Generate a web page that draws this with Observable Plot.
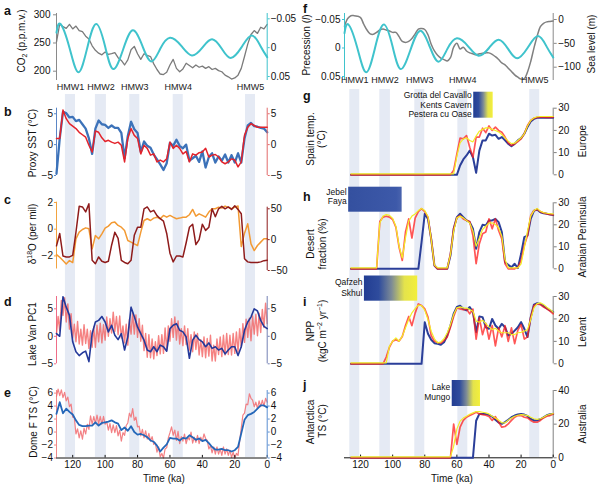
<!DOCTYPE html>
<html><head><meta charset="utf-8">
<script src="https://cdn.jsdelivr.net/npm/d3@7"></script>
<script src="https://cdn.jsdelivr.net/npm/@observablehq/plot@0.6"></script>
<style>
html,body{margin:0;padding:0;background:#fff;}
#fig{position:relative;width:600px;height:496px;overflow:hidden;background:#fff;}
#fig svg{position:absolute;left:0;top:0;}
</style></head><body><div id="fig"></div>
<script>
const FONT = '"Liberation Sans", Arial, Helvetica, sans-serif';

// ---------- time grids (ka) ----------
const TL2 = [0,2,4,6,8,10,12,14,16,18,20,22,24,26,28,30,32,34,36,38,40,42,44,46,48,50,52,54,56,58,60,62,64,66,68,70,72,74,76,78,80,82,84,86,88,90,92,94,96,98,100,102,104,106,108,110,112,114,116,118,120,122,124,126,128,130];
const TL1 = [0,1,2,3,4,5,6,7,8,9,10,11,12,13,14,15,16,17,18,19,20,21,22,23,24,25,26,27,28,29,30,31,32,33,34,35,36,37,38,39,40,41,42,43,44,45,46,47,48,49,50,51,52,53,54,55,56,57,58,59,60,61,62,63,64,65,66,67,68,69,70,71,72,73,74,75,76,77,78,79,80,81,82,83,84,85,86,87,88,89,90,91,92,93,94,95,96,97,98,99,100,101,102,103,104,105,106,107,108,109,110,111,112,113,114,115,116,117,118,119,120,121,122,123,124,125,126,127,128,129,130];
const TR2 = [0,2,4,6,8,10,12,14,16,18,20,22,24,26,28,30,32,34,36,38,40,42,44,46,48,50,52,54,56,58,60,62,64,66,68,70,72,74,76,78,80,82,84,86,88,90,92,94,96,98,100,102,104,106,108,110,112,114,116,118,120,122,124,126];
const xTicks = [120,100,80,60,40,20,0];

// ---------- HMW windows & sites ----------
const hmwNames = ["HMW1","HMW2","HMW3","HMW4","HMW5"];
const hmwOldL = [124.5,106,84.8,58,13.4], hmwYoungL = [118.3,99.2,78.6,51.8,7.2];
const hmwOldR = [126.7,108,86.2,59.4,14.6], hmwYoungR = [120.5,101.4,80,53.2,8.4];
const siteLabels = [["Grotta del Cavallo","Kents Cavern","Pestera cu Oase"],["Jebel","Faya"],["Qafzeh","Skhul"],["Lake","Mungo"]];
const siteOld = [49.5,127.4,117.6,62.9];
const siteYoung = [37.4,94.1,84.4,45.3];

// ---------- a / f ----------
const precT = [0,4,9.5,16,22.5,28,34,40,46.5,53,60,66,71.5,77,83,89,95,100,105.5,111,116.5,122,127.5,130];
const precV = [0.0165,-0.002,-0.021,0.000,0.018,0.002,-0.0145,0.000,0.0135,-0.003,-0.017,0.002,0.024,-0.003,-0.030,0.004,0.037,-0.002,-0.041,0.000,0.0425,0.000,-0.041,-0.026];
const co2 = [283,275,278,267,272,265,248,226,205,193, 188,186,190,193,199,201,205,203,208,205, 209,207,211,206,210,214,204,199,205,221, 211,198,194,195,203,213,226,228,231,221, 231,244,238,220,211,219,224,233,231,230, 234,229,232,237,245,257,262,270,272,280, 275,283,276,279,284,252];
const seaLevel = [-3,-4,-5,-8,-15,-35,-60,-88,-110,-124, -125,-121,-116,-109,-102,-95,-91,-84,-78,-73, -70,-70,-71,-72,-74,-72,-70,-66,-58,-62, -50,-58,-80,-87,-84,-81,-75,-66,-52,-32, -21,-19,-20,-30,-40,-46,-48,-46,-36,-27, -27,-24,-22,-20,-22,-27,-31,-30,-22,-10, 4,7,8,8,2,-14];

// ---------- b ----------
const sstBlue = [2.0,2.6,2.7,2.9,3.0,3.5,3.1,1.0,-2.9,-1.4, -2.9,-1.7,-2.9,-1.6,-2.6,-1.9,-2.9,-1.4,-2.0,-3.7, -1.1,-2.8,-1.8,-2.2,-2.6,0.0,-0.6,-0.2,0.8,-0.2, 0.3,-3.0,-4.1,-3.2,-2.4,-1.6,-0.5,-0.2,0.5,-1.2, 1.9,2.5,3.7,1.4,-2.2,1.9,2.7,2.7,3.1,2.7, 3.2,3.3,3.9,2.6,-1.5,1.0,2.6,3.3,4.0,3.8, 4.5,4.4,5.1,5.3,1.0,-4.7];
const sstRed = [2.8,2.8,2.8,2.8,3.1,3.4,2.8,1.5,-2.8,-3.6, -2.5,-2.3,-2.8,-3.1,-2.8,-2.0,-1.6,-1.7,-2.0,-0.6, -1.2,-1.3,-1.7,-1.5,-2.8,-1.1,-1.5,-0.6,-0.1,-0.6, 0.4,-2.3,-2.8,-2.5,-2.8,-1.5,-1.7,-0.6,-0.1,-1.5, 1.0,1.5,2.6,1.0,-2.8,-0.1,0.4,0.2,0.4,0.7, 0.5,1.1,2.0,2.2,-1.2,-0.1,1.2,1.6,2.0,2.6, 3.0,3.4,4.2,5.6,1.0,1.0];

// ---------- c ----------
const d18Orange = [-0.72,-0.72,-0.97,-1.22,-1.6,-1.1,0.4,-0.3,-1.3,1.73, 1.65,1.53,1.63,1.73,1.58,1.65,1.53,1.53,1.28,0.9, 1.03,1.15,0.98,1.48,1.08,0.9,0.9,0.83,0.78,0.9, 1.03,0.9,1.03,0.78,0.9,0.83,0.65,0.78,0.65,-0.22, -1.22,-1.1,-0.97,-0.85,-0.1,0.15,0.28,0.53,0.48,0.23, 0.08,-0.35,-0.72,-0.47,-1.47,0.03,0.1,-0.02,-0.22,-0.72, -2.5,-2.35,-2.6,-2.35,-2.1,-1.9];
const d18DarkRed = [-33.5,-34,-36,-37,-37,-37,-36,-31,42,49, 55,49,53,50,54,50,37,50,20,15, 25,0,-8,25,20,-5,-28,-26.5,-26.5,-36, -22,10,30,34,39,47.5,45,53,50,20, 20,7,-33.5,-39,-37,-33.5,2,12,-9,-35, -37,-35,-28,-39,-33.5,58,45,53,54,12, -25.5,-28,-28,-26.5,10,-10];

// ---------- d ----------
const vanRed = [2.3,6.0,1.6,4.9,0.7,4.2,0.1,4.0,0.4,3.7, -0.8,3.3,-0.2,3.1,-1.1,2.3,-2.0,1.4,-2.8,0.8, -3.1,0.5,-3.4,0.2,-3.3,0.5,-3.4,0.2,-3.7,-0.1, -3.3,-0.5,-4.5,-1.6,-4.5,0.2,-3.6,-0.4,-3.9,-0.1, -3.7,-0.6,-3.4,0.5,-2.4,0.8,-2.8,0.3,-2.5,1.4, -1.5,1.9,-1.7,1.4,-1.4,2.8,-0.7,3.5,-0.2,3.2, -0.9,1.9,-2.6,1.5,-3.1,0.3,-3.2,0.1,-3.5,-1.0, -4.1,-0.5,-3.9,0.3,-3.8,0.5,-2.6,2.0,-0.9,3.2, -0.2,3.9,0.4,4.3,0.4,3.1,-1.6,2.2,-1.2,1.9, -0.3,3.7,0.3,3.6,0.9,4.4,0.6,3.2,0.0,3.5, -0.7,2.1,-1.2,2.4,-1.0,2.0,-2.0,1.7,-2.0,1.0, -2.2,1.3,-1.3,2.1,-1.6,1.3,-1.4,2.7,-1.0,2.2, -0.3,4.1,1.3,5.9,2.6,7.0,3.8,6.5,1.0,3.6, 0.5];
const vanBlue = [1.4,1.8,2.9,4.6,5.0,3.5,2.6,1.1,-1.9,-3.5, -1.9,-1.9,-2.5,-3.2,-2.2,-2.5,-1.9,-2.2,-1.2,-1.9, -1.0,-0.6,0.2,-0.7,-4.0,-0.1,0.8,1.1,2.3,2.0, 1.4,-2.7,-1.9,-1.6,-2.8,-1.9,-2.8,-2.5,-0.7,0.5, 1.7,3.6,5.3,-0.1,-2.5,0.5,-0.6,0.2,2.0,0.8, 2.6,3.6,2.9,2.6,0.5,-4.6,-2.7,-3.0,-3.5,-2.8, -1.0,3.8,5.3,7.2,0.0,0.5];

// ---------- e ----------
const domeRed = [4.6,5.2,4.0,4.9,3.9,4.8,3.6,4.6,3.9,4.9, 5.2,5.9,4.2,4.3,2.9,2.6,0.6,-1.4,-3.6,-3.3, -4.1,-3.1,-3.9,-2.8,-3.6,-2.6,-3.4,-2.3,-3.6,-2.6, -3.4,-2.3,-3.4,-2.3,-3.2,-2.1,-2.6,-1.3,-1.0,-0.3, -1.4,-0.8,-1.8,-0.5,-1.6,-0.8,-1.7,0.0,-1.2,-0.8, -1.8,-0.3,-1.4,-0.7,-1.8,0.1,-1.3,0.3,-0.5,0.8, -0.1,-0.9,-2.4,-2.6,-4.0,-3.3,-3.8,-2.3,-3.1,-1.7, -1.9,-0.7,-1.4,-0.2,-1.1,0.2,-0.9,0.4,-0.6,0.9, 0.8,2.3,1.8,3.6,2.3,2.9,1.4,1.0,-0.5,-0.1, -1.4,0.3,-0.6,1.0,-0.1,1.1,-0.1,1.3,0.3,1.6, 1.2,2.4,1.2,2.4,1.3,2.6,1.3,2.4,1.2,2.5, 0.4,1.2,-0.3,0.6,-1.1,0.2,-0.9,0.5,-0.3,2.2, 2.3,4.3,3.9,5.4,4.8,6.1,5.3,6.5,5.6,6.6, 5.5];
const domeBlue = [3.8,4.1,4.1,3.6,3.1,2.8,2.6,1.9,-0.2,-2.3, -2.8,-3.0,-2.8,-2.8,-2.6,-2.7,-2.7,-2.3,-1.7,-1.2, -1.4,-1.0,-1.2,-0.8,-0.5,-1.0,-0.9,-1.3,-1.0,-1.0, -0.9,-1.9,-2.4,-3.0,-2.1,-1.5,-1.3,-0.8,-0.5,-0.3, -0.4,0.0,0.9,0.2,0.7,0.3,1.3,1.5,1.8,1.6, 1.5,1.4,1.0,1.5,1.0,1.0,0.9,0.9,1.1,1.8, 2.7,3.1,3.6,2.9,4.6,2.8];

// ---------- g (Europe) ----------
const euRed = [26,25.8,25.8,26,26,25.8,25.5,24.5,22.2,18.5, 16.2,15,13.9,13.2,14.4,17,19.2,20,21.5,20, 22,19,21,17,17,7.9,12.4,17.7,16.2,16.5, 9.4,2, 0,0,0,0,0,0,0,0,0,0, 0,0,0,0,0,0,0,0,0,0, 0,0,0,0,0,0,0,0,0,0, 0,0];
const euYellow = [25.8,25.8,25.8,25.8,25.8,25.7,25.2,24,21.5,18, 16.2,15,13.8,13.6,14.7,16.2,17.7,18.9,19.5,20, 20.7,20.7,20,19.2,17,14.4,15,16.2,15.7,13.9, 8, 0,0,0,0,0,0,0,0,0,0, 0,0,0,0,0,0,0,0,0,0, 0,0,0,0,0,0,0,0,0,0, 0,0,0];
const euBlue = [25.7,25.7,25.7,25.7,25.7,25.7,25.2,24,21.5,18.5, 16.5,15.5,13.9,12.9,13.9,15.5,17,16.2,18,17.7, 18.5,15.5,15.5,10.9,0.9,7.9,10.9,8.7,6.9,4.2, 0,0,0,0,0,0,0,0,0,0, 0,0,0,0,0,0,0,0,0,0, 0,0,0,0,0,0,0,0,0,0, 0,0,0,0];

// ---------- h (Arabian Peninsula) ----------
const arRed = [24.5,24.7,25,25.4,26,27,26.5,24.2,15.1,10.6, 3.8,0.7,0,0,0,2.3,13.6,17.4,22.7,18.2, 22.7,16.7,15.9,11.4,2.3,15.1,21.5,22,22.7,24.2, 23.2,18.2,6.8,0,0,0,0,1.5,13.6,23.5, 26,27.3,26,23,14,22.7,16.7,3.8,9.8,18.9, 22.4,23.5,23.9,23.5,21.5, 0,0,0,0,0,0,0,0,0];
const arYellow = [24.5,24.6,24.8,25.1,25.7,27,26,23.5,16.7,9.1, 1.8,0,0,0,0,3.8,14.4,18.2,19.7,20.4, 20.4,18.9,17.4,13.6,9.8,16.7,20.4,21.5,22.7,23.5, 22.7,16.7,6,0,0,0,0,1.2,12.9,23.2, 26,27,26,24.5,23.5,21.2,13.6,4.5,9.8,18.9, 22.4,23.8,24.2,23.5,20.4, 0,0,0,0,0,0,0,0,0];
const arBlue = [24.4,24.7,25,25.2,25.7,27,26.3,22.7,15.1,14.4, 6.8,0.3,2.3,0.7,1.8,3,16.7,21.2,22.7,22, 22,19.7,20,16.7,9.1,18.2,21.2,22,23.5,25, 23.5,18.2,6,0,0,0,0,1.5,13.6,22.7, 25,12.1, 0,0,0,0,0,0,0,0,0,0, 0,0,0,0,0,0,0,0,0,0, 0,0];

// ---------- i (Levant) ----------
const lvRed = [22.3,23.5,24.5,25.3,26.4,26.7,26,20.8,12,11, 17.5,15,9,16,10,17,12,16,8,17, 11,18,13,20.5,11,24.4,22.3,24.4,24.1,24.5, 24.9,21.1,16.3,11.9,10.4,9.2,9.5,10.1,12.6,20.8, 24.5,26,26.7,22.6,17,21.1,17.1,12.2,10.1,10.7, 10.1,7.4,3, 0,0,0,0,0,0,0,0,0,0,0];
const lvYellow = [22.6,23.8,24.8,26,26.7,26.4,24.5,19.3,14.8,14.1, 13.6,13.4,12.6,12.6,13.4,13.4,13.4,14.1,15.4,14.8, 16,17.5,19,18.1,18.6,23,23.8,24.4,24.5,24.9, 24.5,21.5,17.1,13.4,10.7,9.3,8.9,10.7,14.1,19.3, 23.5,25.5,25.7,24.2,22.3,19.3,15.6,11.9,9.6,11.1, 9.6,7.4, 0,0,0,0,0,0,0,0,0,0,0,0];
const lvBlue = [23,23.8,24.7,25.7,26.7,27,26.4,20.8,11.9,15.6, 18.6,16.3,14.8,13.4,12.6,16.3,17.8,15.6,17.1,20, 15.6,16.3,20.8,21.1,14.1,23,25.3,23.8,24.4,25.9, 25.3,22.3,17.1,12.6,9.6,8.5,8.9,9.2,10.7,13.4, 18.5, 0,0,0,0,0,0,0,0,0,0, 0,0,0,0,0,0,0,0,0,0, 0,0,0];

// ---------- j (Australia) ----------
const auRed = [26.1,25.1,24.7,23.7,22.2,21.2,21.2,22.2,23.7,24.1, 25.1,25.1,24.1,22.2,20.2,18.6,18.2,21.2,24.5,22.2, 24.5,25.3,25.7,26.1,27.1,26.1,25.1,24.1,22.2,18.2, 8,20, 0,0,0,0,0,0,0,0,0,0, 0,0,0,0,0,0,0,0,0,0, 0,0,0,0,0,0,0,0,0,0, 0,0];
const auYellow = [25.7,25.3,24.7,23.5,22.6,22.2,22.6,23.5,24.5,24.9, 25.1,24.7,24.1,23.1,21.8,20.2,20.2,21.8,23,24.1, 25.5,26.1,26.5,26.9,26.9,26.1,25.3,24.1,23,21.2, 16.6,6.3, 0,0,0,0,0,0,0,0,0,0, 0,0,0,0,0,0,0,0,0,0, 0,0,0,0,0,0,0,0,0,0, 0,0];
const auBlue = [26.1,25.9,25.3,24.1,22.9,22.3,22.2,23.1,24.9,25.7, 26.1,25.7,25.1,24.1,22.6,21.2,20.2,21,22.6,24.5, 25.5,26.1,26.1,26.1,22, 0,0,0,0,0, 0,0,0,0,0,0,0,0,0,0, 0,0,0,0,0,0,0,0,0,0, 0,0,0,0,0,0,0,0,0,0, 0,0,0,0];

// ================= drawing =================
const fig = document.getElementById("fig");
const W = 600, H = 496;
const XL = [56, 266.7], XR = [344, 552.7];
const neg = d => d < 0 ? "\u2212" + Math.abs(d) : String(d);
const negP = d => d === 0 ? "0" : (d < 0 ? "\u2212" : "") + Math.abs(d).toFixed(2);

function layer({xr, yr, y, marks, xAxis = false}) {
  const opts = {
    width: W, height: H,
    marginLeft: xr[0], marginRight: W - xr[1], marginTop: yr[0], marginBottom: H - yr[1],
    x: xAxis ? {domain: [130, 0]} : {domain: [130, 0], axis: null},
    style: {background: "transparent", fontFamily: FONT, fontSize: "10px", overflow: "visible", position: "absolute", left: "0px", top: "0px", maxWidth: "none"},
    marks
  };
  if (y) opts.y = y;
  const svg = Plot.plot(opts);
  fig.appendChild(svg);
  return svg;
}
function ax(anchor, ticks, color, fmt, size = 2, pad = 1.5) {
  return Plot.axisY({anchor, ticks, tickSize: size, tickPadding: pad, stroke: color, fill: "#111", label: null, tickFormat: fmt, fontSize: 10});
}
function axLine(side, dom, color) {
  return Plot.ruleX([side === "left" ? 130 : 0], {y1: dom[0], y2: dom[1], stroke: color, strokeWidth: 1});
}
const ln = (t, v, stroke, w, extra = {}) => Plot.line(t, {x: t, y: v, stroke, strokeWidth: w, ...extra});

const bandFill = "#e5eaf4";
const midL = hmwOldL.map((d, i) => (d + hmwYoungL[i]) / 2);
const midR = hmwOldR.map((d, i) => (d + hmwYoungR[i]) / 2);

// bands
layer({xr: XL, yr: [94, 457], marks: [Plot.rect(hmwOldL, {x1: hmwOldL, x2: hmwYoungL, fill: bandFill})]});
layer({xr: XR, yr: [89, 457], marks: [Plot.rect(hmwOldR, {x1: hmwOldR, x2: hmwYoungR, fill: bandFill})]});

// ---- a ----
const GRAY = "#7b7b7b", CYAN = "#3fc3cc";
const aL = [183.5, 302.3], aR = [0.0569, -0.0592];
layer({xr: XL, yr: [13, 80], y: {domain: aL}, marks: [
  axLine("left", aL, "#8a8a8a"), ax("left", [200, 250, 300], "#8a8a8a", neg, 3, 3),
  ln(TL2, co2, GRAY, 1.3),
  Plot.text(hmwNames, {x: midL, frameAnchor: "bottom", dy: 9, text: d => d, fontSize: 9, fill: "#222"})
]});
layer({xr: XL, yr: [13, 80], y: {domain: aR}, marks: [
  axLine("right", aR, CYAN), ax("right", [-0.05, 0, 0.05], CYAN, negP, 2, 1.5),
  ln(precT, precV, CYAN, 2, {curve: "natural"})
]});

// ---- f ----
const fR = [-127.9, 12.6], fL = [0.057, -0.0605];
layer({xr: XR, yr: [13, 80], y: {domain: fR}, marks: [
  axLine("right", fR, "#8a8a8a"), ax("right", [-100, -50, 0], "#8a8a8a", neg, 3, 2),
  ln(TL2, seaLevel, "#808080", 1.5, {curve: "catmull-rom"})
]});
layer({xr: XR, yr: [13, 80], y: {domain: fL}, marks: [
  axLine("left", fL, CYAN), ax("left", [-0.05, 0, 0.05], CYAN, negP, 2, 2),
  ln(precT, precV, CYAN, 2, {curve: "natural"}),
  Plot.text(hmwNames, {x: midR, frameAnchor: "bottom", dy: 2.7, text: d => d, fontSize: 9, fill: "#222"})
]});

// ---- b ----
const bD = [-5, 5.9];
layer({xr: XL, yr: [107.7, 175], y: {domain: bD}, marks: [
  axLine("left", bD, "#5b86c6"), ax("left", [-5, 0, 5], "#5b86c6", neg),
  ln(TL2, sstBlue, "#3c72b9", 2.3)
]});
layer({xr: XL, yr: [107.7, 175], y: {domain: bD}, marks: [
  axLine("right", bD, "#e26a6a"), ax("right", [-5, 0, 5], "#e26a6a", neg),
  ln(TL2, sstRed, "#e3232b", 1.5)
]});

// ---- c ----
const cL = [-2.98, 2.02], cR = [-50, 52.6];
layer({xr: XL, yr: [201.7, 268.5], y: {domain: cL}, marks: [
  axLine("left", cL, "#f2a33f"), ax("left", [-2, 0, 2], "#f2a33f", neg),
  ln(TL2, d18Orange, "#f39a33", 1.5)
]});
layer({xr: XL, yr: [206.7, 270], y: {domain: cR}, marks: [
  axLine("right", cR, "#8e1b1b"), ax("right", [-50, 0, 50], "#8e1b1b", neg),
  ln(TL2, d18DarkRed, "#8e1b1b", 1.5)
]});

// ---- d ----
const dD = [-5, 7.24];
layer({xr: XL, yr: [296, 363.3], y: {domain: dD}, marks: [
  axLine("left", dD, "#ef6d88"), ax("left", [-5, 0, 5], "#ef6d88", neg),
  ln(TL1, vanRed, "#f25858", 1.4, {strokeOpacity: 0.75})
]});
layer({xr: XL, yr: [296, 363.3], y: {domain: dD}, marks: [
  axLine("right", dD, "#7482b4"), ax("right", [-5, 0, 5], "#7482b4", neg),
  ln(TL2, vanBlue, "#24399a", 1.6)
]});

// ---- e ----
const eD = [-4, 6.4];
layer({xr: XL, yr: [390, 457.5], y: {domain: eD}, xAxis: true, marks: [
  axLine("left", eD, "#f08a8a"), ax("left", [-4, -2, 0, 2, 4, 6], "#f08a8a", neg),
  ln(TL1, domeRed, "#f27378", 1.2, {strokeOpacity: 0.9}),
  Plot.ruleY([-4], {stroke: "#111"}),
  Plot.ruleX(xTicks, {y1: -4, y2: -3.6, stroke: "#111"}),
  Plot.axisX({anchor: "bottom", ticks: xTicks, tickSize: 0, tickPadding: 3, label: null, fontSize: 10, fill: "#111"})
]});
layer({xr: XL, yr: [390, 457.5], y: {domain: eD}, marks: [
  axLine("right", eD, "#5b8fd1"), ax("right", [-4, -2, 0, 2, 4, 6], "#5b8fd1", neg),
  ln(TL2, domeBlue, "#2467b9", 1.8)
]});

// ---- g h i j ----
const BLUE = "#2b3f99", RED = "#ff1e1e", YEL = "#f3ee26";
function modelPanel(yr, dom, ticks, blue, red, yel, extra = []) {
  layer({xr: XR, yr, y: {domain: dom}, xAxis: extra.length > 0, marks: [
    axLine("right", dom, "#808080"), ax("right", ticks, "#808080", neg, 3, 2),
    ...extra,
    ln(TR2, blue, BLUE, 2),
    ln(TR2, red, RED, 1.7, {strokeOpacity: 0.75}),
    ln(TR2, yel, YEL, 1.2, {dy: -1})
  ]});
}
modelPanel([107.7, 174.3], [0, 30], [0, 10, 20, 30], euBlue, euRed, euYellow);
modelPanel([202.3, 268.3], [0, 30], [0, 10, 20, 30], arBlue, arRed, arYellow);
modelPanel([296, 363.3], [0, 30], [0, 10, 20, 30], lvBlue, lvRed, lvYellow);
modelPanel([390, 457.3], [0, 40], [0, 20, 40], auBlue, auRed, auYellow, [
  Plot.ruleY([0], {stroke: "#111"}),
  Plot.ruleX(xTicks, {y1: 0, y2: 1.6, stroke: "#111"}),
  Plot.axisX({anchor: "bottom", ticks: xTicks, tickSize: 0, tickPadding: 3, label: null, fontSize: 10, fill: "#111"})
]);

// ---- site legends ----
function siteLegend(k, yr, fracs, gradient) {
  const lines = siteLabels[k];
  const id = "grad" + k;
  const svg = layer({xr: XR, yr, y: {domain: [0, 1], axis: null}, marks: [
    Plot.rect([k], {x1: [siteOld[k]], x2: [siteYoung[k]], y1: 0, y2: 1, fill: `url(#${id})`}),
    Plot.text(lines, {x: lines.map(() => siteOld[k]), y: fracs, text: d => d, textAnchor: "end", dx: -2, fontSize: 8.5, fill: "#111"})
  ]});
  const lg = d3.select(svg).insert("defs", ":first-child").append("linearGradient").attr("id", id);
  gradient.forEach(([o, c]) => lg.append("stop").attr("offset", o).attr("stop-color", c));
}
const gBY = [[0, "#223d92"], [0.28, "#2f4c9d"], [0.52, "#7d8b96"], [0.76, "#e4e34c"], [1, "#f3ef3a"]];
siteLegend(0, [91.7, 117.7], [0.87, 0.51, 0.14], gBY);
siteLegend(1, [186.7, 211.7], [0.79, 0.43], [[0, "#34509f"], [0.9, "#3d59a9"], [1, "#4a64ae"]]);
siteLegend(2, [275.5, 300.7], [0.75, 0.31], gBY);
siteLegend(3, [380, 406], [0.74, 0.36], gBY);

// ---- text overlay ----
const ov = d3.select(fig).append("svg").attr("width", W).attr("height", H)
  .style("font-family", FONT).style("pointer-events", "none");
function txt(x, y, parts, {rot = false, anchor = "middle", size = 10, weight = null} = {}) {
  const t = ov.append("text")
    .attr("transform", `translate(${x},${y})${rot ? " rotate(-90)" : ""}`)
    .attr("x", 0).attr("y", 0.35 * size)
    .attr("text-anchor", anchor).attr("font-size", size).attr("fill", "#111");
  if (weight) t.attr("font-weight", weight);
  let cur = 0;
  for (const p of (Array.isArray(parts) ? parts : [parts])) {
    const [s, shift = 0, fs, st] = typeof p === "string" ? [p, 0] : p;
    const ts = t.append("tspan").text(s);
    if (shift !== cur) ts.attr("dy", shift - cur);
    if (fs) ts.attr("font-size", fs);
    if (st) ts.attr("font-style", st);
    cur = shift;
  }
}
// panel letters
[["a", 4, 10.8], ["b", 4, 111.8], ["c", 4, 200], ["d", 4, 301.8], ["e", 4, 392.5],
 ["f", 303, 9.1], ["g", 303, 95.8], ["h", 303, 196.8], ["i", 303, 301.8], ["j", 303, 384.8]]
 .forEach(([s, x, y]) => txt(x, y, s, {anchor: "start", size: 12.5, weight: "bold"}));
// left column titles
txt(21, 41, ["CO", ["2", 2.5, 7], " (p.p.m.v.)"], {rot: true});
txt(32, 143, "Proxy SST (\u00B0C)", {rot: true});
txt(32, 234, ["\u03B4", ["18", -3.5, 7], "O (per mil)"], {rot: true});
txt(32, 334, "Lake Van PC1", {rot: true});
txt(33, 422, "Dome F TS (\u00B0C)", {rot: true});
txt(164, 478, "Time (ka)");
// right column titles
txt(306, 45, ["Precession (", ["l", 0, null, "italic"], ")"], {rot: true});
txt(591, 44, "Sea level (m)", {rot: true});
txt(310, 139, "Spain temp.", {rot: true});
txt(321, 139, "(\u00B0C)", {rot: true});
txt(582, 141, "Europe", {rot: true});
txt(310, 244, "Desert", {rot: true});
txt(322, 244, "fraction (%)", {rot: true});
txt(582, 237, "Arabian Peninsula", {rot: true});
txt(310, 331, "NPP", {rot: true});
txt(322, 331, ["(kgC m", ["\u22122", -3.5, 7], " yr", ["\u22121", -3.5, 7], ")"], {rot: true});
txt(582, 332, "Levant", {rot: true});
txt(310, 422, "Antarctica", {rot: true});
txt(322, 421, "TS (\u00B0C)", {rot: true});
txt(582, 424, "Australia", {rot: true});
txt(452, 478, "Time (ka)");
</script></body></html>
